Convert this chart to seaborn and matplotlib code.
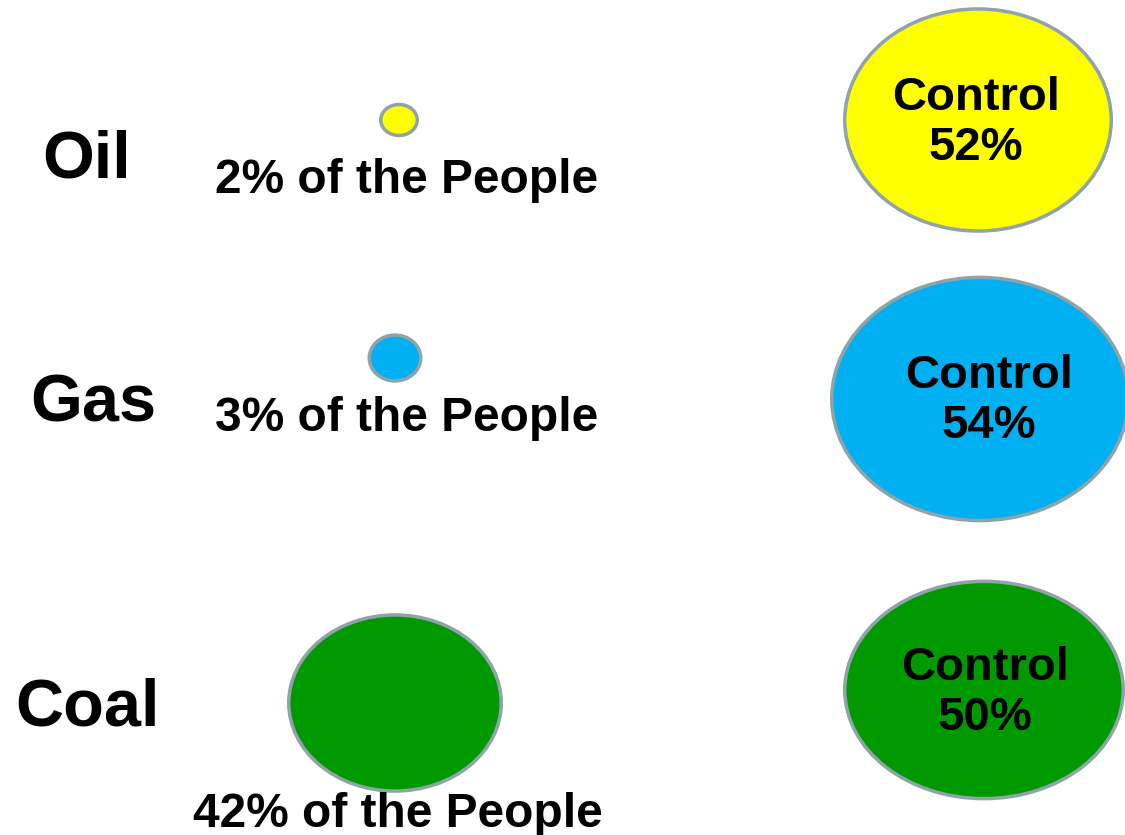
import numpy as np
import pandas as pd
import matplotlib
matplotlib.use("Agg")
import matplotlib.pyplot as plt
from matplotlib.path import Path
from matplotlib.transforms import Affine2D
import seaborn as sns

# data
fuels = ["Oil", "Gas", "Coal"]
people_pct = [2, 3, 42]
control_pct = [52, 54, 50]
fuel_colors = ["#FFFF00", "#00B0F0", "#009900"]

# layout (pixel coordinates, y down)
left_x = [399, 395, 395]
left_y = [120, 358, 703]
left_w = [40, 55, 216]
left_h = [34, 49, 179]
right_x = [978, 980, 984]
right_y = [120, 399, 690]
right_w = [270, 300, 282]
right_h = [225, 246, 220]

name_x = [87, 93, 88]
name_base = [178, 422, 725]
people_x = [407, 407, 398]
people_base = [193, 431, 827]
ctrl_x = [976, 989, 985]
ctrl_base = [110, 388, 680]
pct_base = [160, 438, 730]

edge_px = 3.5
px2pt = 0.72

sns.set_theme(style="white")
plt.rcParams["font.family"] = ["Liberation Sans", "DejaVu Sans"]

rows = []
for i, f in enumerate(fuels):
    rows.append(dict(key=f + " people", x=left_x[i], y=left_y[i],
                     w=left_w[i], h=left_h[i], color=fuel_colors[i]))
    rows.append(dict(key=f + " control", x=right_x[i], y=right_y[i],
                     w=right_w[i], h=right_h[i], color=fuel_colors[i]))
df = pd.DataFrame(rows)

def ellipse_marker(w, h):
    circ = Path.unit_circle()
    return Affine2D().scale(1.0, h / w).transform_path(circ)

palette = dict(zip(df["key"], df["color"]))
markers = {k: ellipse_marker(w, h) for k, w, h in zip(df["key"], df["w"], df["h"])}
sizes = {k: ((w - edge_px) * px2pt) ** 2 for k, w in zip(df["key"], df["w"])}

fig = plt.figure(figsize=(11.25, 8.35), dpi=100)
ax = fig.add_axes([0, 0, 1, 1])

sns.scatterplot(data=df, x="x", y="y", hue="key", palette=palette,
                style="key", markers=markers, size="key", sizes=sizes,
                edgecolor="#8FA4A8", linewidth=edge_px * px2pt,
                legend=False, ax=ax, zorder=2)

ax.set_xlim(0, 1125)
ax.set_ylim(835, 0)
ax.axis("off")

for i, f in enumerate(fuels):
    ax.text(name_x[i], name_base[i], f, ha="center", va="baseline",
            fontsize=48, fontweight="bold", color="black")
    ax.text(people_x[i], people_base[i], f"{people_pct[i]}% of the People",
            ha="center", va="baseline", fontsize=34.5, fontweight="bold",
            color="black", zorder=3)
    ax.text(ctrl_x[i], ctrl_base[i], "Control", ha="center", va="baseline",
            fontsize=34, fontweight="bold", color="black", zorder=3)
    ax.text(ctrl_x[i], pct_base[i], f"{control_pct[i]}%", ha="center",
            va="baseline", fontsize=34, fontweight="bold", color="black",
            zorder=3)

fig.savefig("out.png", dpi=100, facecolor="white")
